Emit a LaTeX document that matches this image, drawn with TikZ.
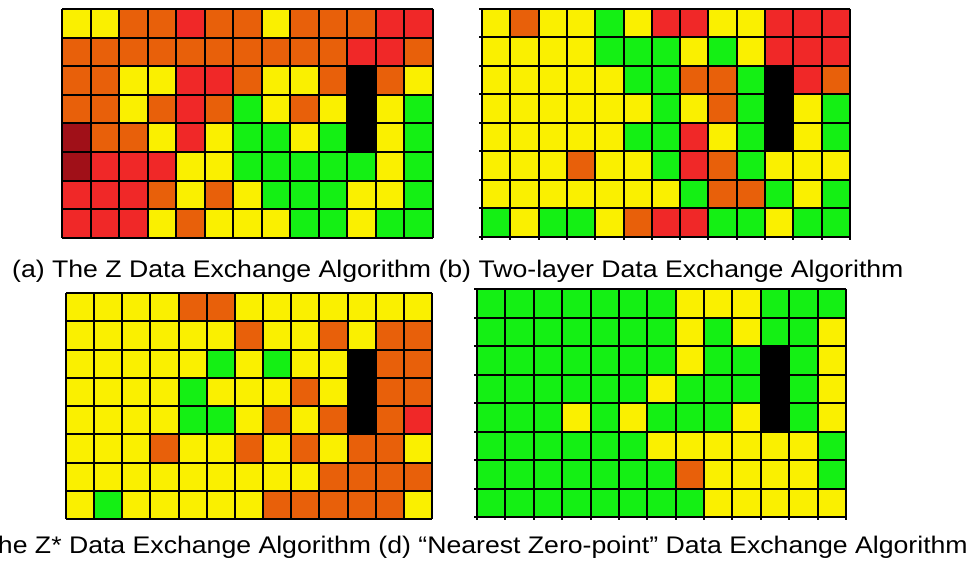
\documentclass[tikz,border=0pt]{standalone}
\usepackage{fontspec}
\setmainfont{Liberation Sans}
\newfontfamily\capfont[FakeStretch=1.11]{Liberation Sans}
\definecolor{cY}{HTML}{FAF000}
\definecolor{cO}{HTML}{E8600A}
\definecolor{cR}{HTML}{F02828}
\definecolor{cD}{HTML}{A01018}
\definecolor{cG}{HTML}{14F014}
\definecolor{cK}{HTML}{000000}
\tikzset{gl/.style={line width=2pt,black}, captext/.style={font=\capfont\fontsize{24}{28}\selectfont,inner sep=0pt}}
\newcommand{\cellgrid}[6]{%
 \pgfmathsetmacro\gcw{(#3-#1)/13}%
 \pgfmathsetmacro\gch{(#4-#2)/8}%
 \foreach \rowlist [count=\r from 0] in {#5} {
   \foreach \cc [count=\k from 0] in \rowlist {
     \fill[fill=c\cc] ({#1+\k*\gcw},{#2+\r*\gch}) rectangle ++(\gcw,\gch);
   }
 }
 \foreach \k in {0,...,13} \draw[gl] ({#1+\k*\gcw},#2) -- ({#1+\k*\gcw},{#4+#6});
 \foreach \r in {0,...,8} \draw[gl] ({#1-#6},{#2+\r*\gch}) -- (#3,{#2+\r*\gch});
}
\begin{document}
\begin{tikzpicture}[x=1pt,y=-1pt]
\useasboundingbox (0,0) rectangle (974,564);
\fill[white] (0,0) rectangle (974,564);
% (a)
\cellgrid{62}{9}{433}{238}{%
{Y,Y,O,O,R,O,O,Y,O,O,O,R,R},
{O,O,O,O,O,O,O,O,O,O,R,R,O},
{O,O,Y,Y,R,R,O,Y,Y,O,K,O,Y},
{O,O,Y,O,R,O,G,Y,O,Y,K,Y,G},
{D,O,O,Y,R,Y,G,G,Y,G,K,Y,G},
{D,R,R,R,Y,Y,G,G,G,G,G,Y,G},
{R,R,R,O,Y,O,Y,G,G,G,Y,Y,G},
{R,R,R,Y,O,Y,Y,Y,G,G,Y,G,G}}{0}
% (b)
\cellgrid{482}{9}{850}{237}{%
{Y,O,Y,Y,G,Y,R,R,Y,Y,R,R,R},
{Y,Y,Y,Y,G,G,G,Y,G,Y,R,R,R},
{Y,Y,Y,Y,Y,G,G,O,O,G,K,R,O},
{Y,Y,Y,Y,Y,Y,G,Y,O,G,K,Y,G},
{Y,Y,Y,Y,Y,G,G,R,Y,G,K,Y,G},
{Y,Y,Y,O,Y,Y,G,R,O,G,Y,Y,Y},
{Y,Y,Y,Y,Y,Y,Y,G,O,O,G,Y,G},
{G,Y,G,G,Y,O,R,R,G,G,Y,G,G}}{3}
% (c)
\cellgrid{66}{293}{432}{519}{%
{Y,Y,Y,Y,O,O,Y,Y,Y,Y,Y,Y,Y},
{Y,Y,Y,Y,Y,Y,O,Y,Y,O,Y,O,O},
{Y,Y,Y,Y,Y,G,Y,G,Y,Y,K,O,O},
{Y,Y,Y,Y,G,Y,Y,Y,O,Y,K,O,O},
{Y,Y,Y,Y,G,G,Y,O,Y,O,K,O,R},
{Y,Y,Y,O,Y,Y,O,Y,O,Y,O,O,Y},
{Y,Y,Y,Y,Y,Y,Y,Y,Y,O,O,O,O},
{Y,G,Y,Y,Y,Y,Y,O,O,O,O,O,Y}}{0}
% (d)
\cellgrid{477}{289}{846}{517}{%
{G,G,G,G,G,G,G,Y,Y,Y,G,G,G},
{G,G,G,G,G,G,G,Y,G,Y,G,G,Y},
{G,G,G,G,G,G,G,Y,G,G,K,G,Y},
{G,G,G,G,G,G,Y,G,G,G,K,G,Y},
{G,G,G,Y,G,Y,G,G,G,Y,K,G,Y},
{G,G,G,G,G,G,Y,Y,Y,Y,Y,Y,G},
{G,G,G,G,G,G,G,O,Y,Y,Y,Y,G},
{G,G,G,G,G,G,G,G,Y,Y,Y,Y,Y}}{3}
\node[captext,anchor=base west] (capab) at (12,277) {(a) The Z Data Exchange Algorithm (b) Two-layer Data Exchange Algorithm};
\node[captext,anchor=base east] (capcd) at (968,553) {(c) The Z* Data Exchange Algorithm (d) “Nearest Zero-point” Data Exchange Algorithm};
\end{tikzpicture}
\end{document}
